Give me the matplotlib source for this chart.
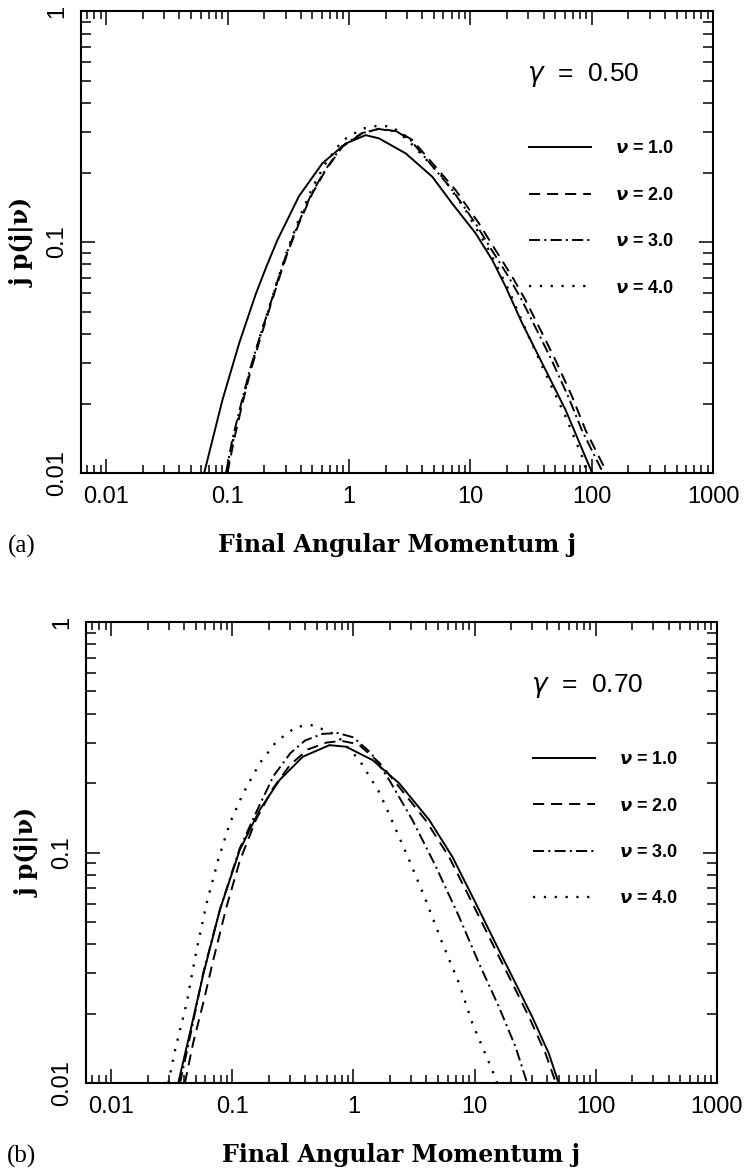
import matplotlib.pyplot as plt
from matplotlib.ticker import LogLocator, NullFormatter

plt.rcParams["lines.scale_dashes"] = False
plt.rcParams["mathtext.fontset"] = "dejavusans"

# ---- panel (a): gamma = 0.50 ----
ja_nu1 = [0.0641, 0.0906, 0.1245, 0.1706, 0.209, 0.257, 0.387, 0.603, 0.940, 1.371, 1.766,
          2.93, 4.85, 7.08, 11.04, 15.14, 19.5, 26.7, 39.0, 60.8, 100.7]
pa_nu1 = [0.0100, 0.0207, 0.0365, 0.0596, 0.0785, 0.102, 0.158, 0.2193, 0.2673, 0.2904, 0.2812,
          0.2421, 0.1919, 0.1469, 0.1091, 0.0836, 0.0641, 0.0445, 0.0299, 0.01875, 0.0100]

ja_nu2 = [0.0998, 0.113, 0.1324, 0.1552, 0.1875, 0.2198, 0.257, 0.3105, 0.387, 0.499,
          0.643, 0.881, 1.288, 1.78, 2.58, 3.32, 5.16, 7.55, 11.75, 16.1, 22.1, 28.4,
          39.0, 50.2, 68.9, 88.7, 114.3, 133.7]
pa_nu2 = [0.0100, 0.0140, 0.0200, 0.0279, 0.0389, 0.0508, 0.0662, 0.0893, 0.1205, 0.1626,
          0.2051, 0.2588, 0.2958, 0.310, 0.3006, 0.2767, 0.2118, 0.1679, 0.1205, 0.0923,
          0.0708, 0.0561, 0.0403, 0.0308, 0.0214, 0.01535, 0.01178, 0.0100]

ja_nu3 = [0.097, 0.11, 0.13, 0.153, 0.185, 0.218, 0.255, 0.308, 0.385, 0.495,
          0.64, 0.87, 1.27, 1.75, 2.5, 3.2, 4.9, 7.1, 11.0, 15.0, 20.6, 26.5,
          36.3, 46.7, 64.0, 82.5, 106.0, 124.0]
pa_nu3 = [0.0100, 0.0142, 0.0202, 0.0282, 0.0392, 0.0512, 0.0668, 0.090, 0.1215, 0.1635,
          0.206, 0.259, 0.296, 0.309, 0.300, 0.277, 0.212, 0.168, 0.1205, 0.0923,
          0.0708, 0.0561, 0.0403, 0.0308, 0.0214, 0.0154, 0.0118, 0.0100]

ja_nu4 = [0.098, 0.113, 0.1324, 0.1552, 0.1875, 0.2198, 0.257, 0.3105, 0.387, 0.499,
          0.643, 0.881, 1.288, 1.78, 2.3, 3.3, 5.86, 9.12, 14.2, 20.7, 30.3, 41.5,
          60.8, 83.2, 91.4]
pa_nu4 = [0.0100, 0.0145, 0.0205, 0.0285, 0.0400, 0.0520, 0.0680, 0.0920, 0.1260, 0.1720,
          0.2200, 0.2750, 0.3100, 0.3200, 0.3150, 0.2650, 0.1919, 0.1377, 0.0923, 0.0619,
          0.0389, 0.0270, 0.01754, 0.01178, 0.0100]

# ---- panel (b): gamma = 0.70 ----
jb_nu1 = [0.0358, 0.0447, 0.0575, 0.0789, 0.1153, 0.168, 0.246, 0.383, 0.634, 0.871,
          1.44, 2.39, 4.23, 6.56, 10.23, 14.9, 20.5, 29.9, 41.0, 49.5]
pb_nu1 = [0.0100, 0.0165, 0.0295, 0.0564, 0.1026, 0.1528, 0.2065, 0.2606, 0.2924, 0.2877,
          0.2518, 0.1995, 0.1384, 0.0959, 0.0603, 0.0404, 0.0289, 0.0194, 0.01346, 0.0100]

jb_nu2 = [0.0406, 0.0475, 0.0575, 0.0695, 0.0895, 0.1153, 0.158, 0.217, 0.30, 0.42,
          0.60, 0.80, 1.1, 1.64, 2.25, 3.95, 6.15, 9.6, 14.0, 19.3, 28.1, 38.5, 47.0]
pb_nu2 = [0.0100, 0.0149, 0.0222, 0.0340, 0.058, 0.092, 0.140, 0.190, 0.240, 0.280,
          0.300, 0.305, 0.295, 0.245, 0.200, 0.138, 0.0959, 0.0603, 0.0404, 0.0289,
          0.0194, 0.01346, 0.0100]

jb_nu3 = [0.037, 0.0447, 0.0575, 0.0794, 0.115, 0.158, 0.219, 0.302, 0.398, 0.55,
          0.74, 1.0, 1.4, 1.98, 3.08, 4.8, 7.45, 10.9, 15.9, 21.8, 27.2]
pb_nu3 = [0.0100, 0.0158, 0.0300, 0.0570, 0.1040, 0.150, 0.215, 0.270, 0.306, 0.327,
          0.330, 0.316, 0.270, 0.206, 0.138, 0.0868, 0.0527, 0.0330, 0.0214, 0.01436, 0.0100]

jb_nu4 = [0.0296, 0.0337, 0.042, 0.0507, 0.0614, 0.0764, 0.0953, 0.123, 0.168, 0.231,
          0.337, 0.462, 0.722, 1.12, 1.64, 1.98, 2.89, 3.96, 5.43, 7.45, 9.6, 14.0, 15.4]
pb_nu4 = [0.0100, 0.0139, 0.0222, 0.0378, 0.0603, 0.0927, 0.134, 0.1807, 0.2438, 0.3027,
          0.3515, 0.357, 0.3235, 0.252, 0.182, 0.146, 0.0927, 0.0622, 0.0404, 0.0271,
          0.01815, 0.01138, 0.0100]

nu_labels = [r"$\boldsymbol{\nu}$ = 1.0", r"$\boldsymbol{\nu}$ = 2.0",
             r"$\boldsymbol{\nu}$ = 3.0", r"$\boldsymbol{\nu}$ = 4.0"]
x_ticks = [0.01, 0.1, 1, 10, 100, 1000]
x_ticklabels = ["0.01", "0.1", "1", "10", "100", "1000"]
y_ticks = [0.01, 0.1, 1]
y_ticklabels = ["0.01", "0.1", "1"]

line_styles = ["-", (0, (8, 5)), (0, (8, 3, 1.5, 3)), (0, (1.6, 6.2))]
line_widths = [1.4, 1.4, 1.4, 1.7]

sans = ["Liberation Sans", "DejaVu Sans"]
serif_bold = ["DejaVu Serif"]

fig = plt.figure(figsize=(7.5, 11.71), dpi=100)

panels = [
    ([0.108, 0.596, 0.843, 0.3945], "0.50", "(a)",
     [(ja_nu1, pa_nu1), (ja_nu2, pa_nu2), (ja_nu3, pa_nu3), (ja_nu4, pa_nu4)]),
    ([0.1147, 0.0751, 0.841, 0.3937], "0.70", "(b)",
     [(jb_nu1, pb_nu1), (jb_nu2, pb_nu2), (jb_nu3, pb_nu3), (jb_nu4, pb_nu4)]),
]

for rect, gamma, tag, series in panels:
    ax = fig.add_axes(rect)
    handles = []
    for (xs, ys), ls, lw, lab in zip(series, line_styles, line_widths, nu_labels):
        h, = ax.plot(xs, ys, color="black", linestyle=ls, linewidth=lw, label=lab)
        handles.append(h)

    ax.set_xscale("log")
    ax.set_yscale("log")
    ax.set_xlim(0.0062, 1000)
    ax.set_ylim(0.01, 1)

    ax.set_xticks(x_ticks, x_ticklabels)
    ax.set_yticks(y_ticks, y_ticklabels)
    ax.xaxis.set_minor_locator(LogLocator(base=10, subs=range(2, 10), numticks=20))
    ax.yaxis.set_minor_locator(LogLocator(base=10, subs=range(2, 10), numticks=20))
    ax.xaxis.set_minor_formatter(NullFormatter())
    ax.yaxis.set_minor_formatter(NullFormatter())

    ax.tick_params(which="both", direction="in", top=True, right=True, width=1.1)
    ax.tick_params(which="major", length=10)
    ax.tick_params(axis="x", which="minor", length=6)
    ax.tick_params(axis="y", which="minor", length=7)
    ax.tick_params(axis="x", which="major", pad=9)
    ax.tick_params(axis="y", which="major", pad=9)
    for lbl in ax.get_xticklabels() + ax.get_yticklabels():
        lbl.set_family(sans)
        lbl.set_fontsize(17)
    for lbl in ax.get_yticklabels():
        lbl.set_rotation(90)
        lbl.set_va("center")

    for sp in ax.spines.values():
        sp.set_linewidth(1.5)

    ax.set_xlabel("Final Angular Momentum j", family=serif_bold, fontweight="bold",
                  fontsize=17)
    ax.xaxis.set_label_coords(0.5, -0.155)
    ax.xaxis.label.set_va("center")
    ax.set_ylabel("j p(j|ν)", family=serif_bold, fontweight="bold", fontsize=17)
    ax.yaxis.set_label_coords(-0.092, 0.5)
    ax.yaxis.label.set_va("center")

    ax.text(0.706, 0.861, r"$\gamma$  =  " + gamma, transform=ax.transAxes,
            family=sans, fontsize=19, ha="left", va="center")

    ax.legend(handles=handles, loc="upper left", bbox_to_anchor=(0.709, 0.720),
              frameon=False, borderpad=0, borderaxespad=0, handlelength=3.4,
              handletextpad=1.35, labelspacing=1.63,
              prop={"family": sans, "weight": "bold", "size": 13})

    bottom_px = (1 - rect[1]) * 1171
    fig.text(0.029, 1 - (bottom_px + 73) / 1171, tag, family=["Liberation Serif"],
             fontsize=18, ha="center", va="center")

fig.savefig("out.png", dpi=100, facecolor="white")
